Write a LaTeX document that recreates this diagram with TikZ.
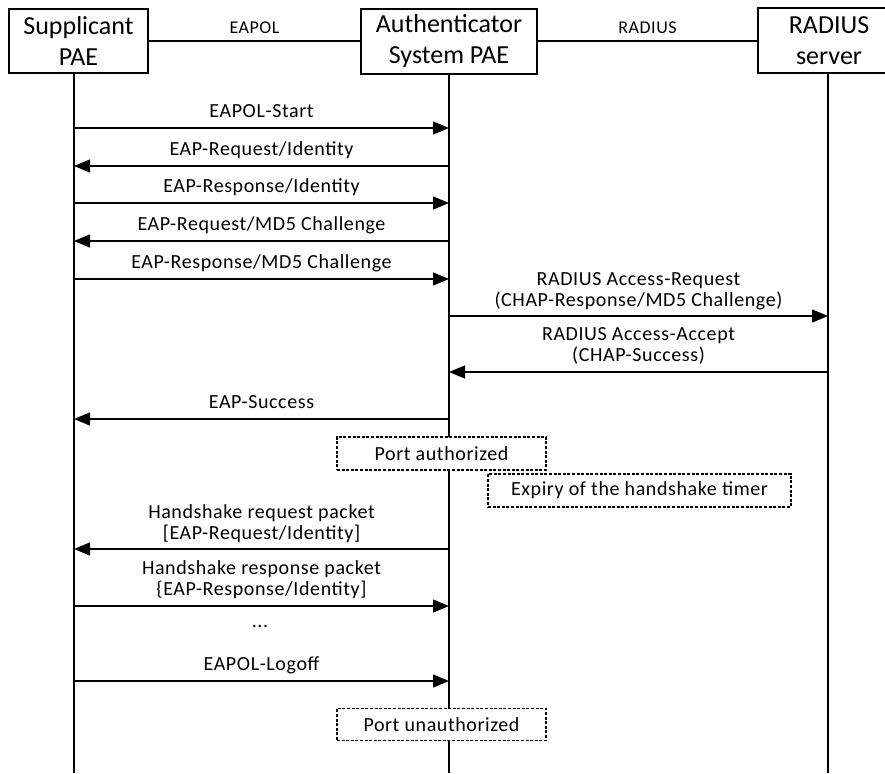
\documentclass[tikz,border=0pt]{standalone}
\usepackage{fontspec}
\setmainfont{Carlito}
\newfontfamily\lblfont[LetterSpace=3]{Carlito}
\usetikzlibrary{arrows.meta}
\tikzset{
  actor/.style={draw, line width=1.6pt, align=center, font=\fontsize{26}{31}\selectfont, inner sep=0pt},
  life/.style={line width=1.5pt},
  msg/.style={line width=1.4pt, -{Triangle[length=16pt,width=13pt]}},
  lbl/.style={font=\lblfont\fontsize{20}{21}\selectfont, inner sep=0pt, align=center, text depth=0pt},
  toplbl/.style={font=\lblfont\fontsize{18}{20}\selectfont, inner sep=0pt, text depth=0pt},
  state/.style={draw, line width=1.2pt, dash pattern=on 3pt off 1.6pt, font=\lblfont\fontsize{20}{22}\selectfont, inner sep=0pt, fill=white},
}
\begin{document}
\begin{tikzpicture}[x=1pt,y=-1pt]
\useasboundingbox (0,0) rectangle (885,773);
% actors
\node[actor, minimum width=139pt, minimum height=64pt] (sup) at (78.5,41) {Supplicant\\PAE};
\node[actor, minimum width=176pt, minimum height=65pt] (auth) at (449,41.5) {Authenticator\\System PAE};
\node[actor, minimum width=142pt, minimum height=65pt] (rad) at (829,40.5) {RADIUS\\server};
% links between actors
\draw[life] (sup.east |- 0,41) -- node[toplbl, above=7pt] {EAPOL} (auth.west |- 0,41);
\draw[life] (auth.east |- 0,41) -- node[toplbl, above=7pt] {RADIUS} (rad.west |- 0,41);
% lifelines
\coordinate (sbot) at (74,773);
\coordinate (abot) at (449,773);
\coordinate (rbot) at (828,773);
\draw[life] (sup.south -| sbot) -- (sbot);
\draw[life] (auth.south -| abot) -- (abot);
\draw[life] (rad.south -| rbot) -- (rbot);
% message end points
\foreach \n/\y in {1/128,2/166,3/203,4/241,5/279,6/316,7/372,8/419,9/549,10/606,11/681}{
  \coordinate (s\n) at (74,\y);
  \coordinate (a\n) at (449,\y);
  \coordinate (r\n) at (828,\y);
}
\draw[msg] (s1) -- node[lbl, above=10pt] {EAPOL-Start} (a1);
\draw[msg] (a2) -- node[lbl, above=10pt] {EAP-Request/Identity} (s2);
\draw[msg] (s3) -- node[lbl, above=10pt] {EAP-Response/Identity} (a3);
\draw[msg] (a4) -- node[lbl, above=10pt] {EAP-Request/MD5 Challenge} (s4);
\draw[msg] (s5) -- node[lbl, above=10pt] {EAP-Response/MD5 Challenge} (a5);
\draw[msg] (a6) -- node[lbl, above=9pt] {RADIUS Access-Request\\(CHAP-Response/MD5 Challenge)} (r6);
\draw[msg] (r7) -- node[lbl, above=10pt] {RADIUS Access-Accept\\(CHAP-Success)} (a7);
\draw[msg] (a8) -- node[lbl, above=10pt] {EAP-Success} (s8);
\draw[msg] (a9) -- node[lbl, above=9pt] {Handshake request packet\\{[}EAP-Request/Identity{]}} (s9);
\draw[msg] (s10) -- node[lbl, above=10pt] {Handshake response packet\\\{EAP-Response/Identity{]}} (a10);
\node[lbl] (dots) at (260,626) {...};
\draw[msg] (s11) -- node[lbl, above=10pt] {EAPOL-Logoff} (a11);
% states
\node[state, minimum width=209pt, minimum height=33pt] (pa) at (441.5,453.5) {Port authorized};
\node[state, minimum width=303pt, minimum height=33pt] (exp) at (639.5,490.5) {Expiry of the handshake timer};
\node[state, minimum width=209pt, minimum height=32pt] (pu) at (441.5,724.5) {Port unauthorized};
\end{tikzpicture}
\end{document}
